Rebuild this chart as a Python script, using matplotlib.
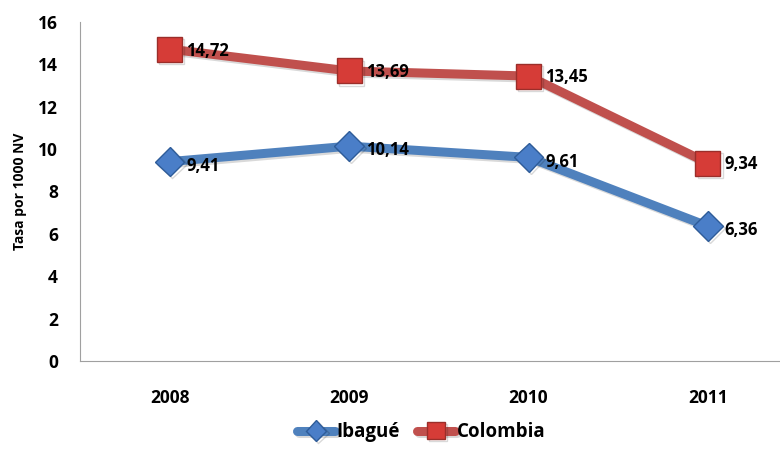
import numpy as np
import matplotlib.pyplot as plt
import matplotlib.patheffects as pe

years = ["2008", "2009", "2010", "2011"]
ibague = [9.41, 10.14, 9.61, 6.36]
colombia = [14.72, 13.69, 13.45, 9.34]
y_ticks = [0, 2, 4, 6, 8, 10, 12, 14, 16]

plt.rcParams['font.family'] = ['Open Sans', 'DejaVu Sans']

fig = plt.figure(figsize=(7.8, 4.5), dpi=100)
ax = fig.add_axes([0.1026, 0.198, 0.92, 0.753])

x = np.arange(len(years))
shadow = [pe.SimpleLineShadow(offset=(1.5, -1.5), alpha=0.15), pe.Normal()]

ax.plot(x, ibague, color='#4F81BD', linewidth=6.5, marker='D', markersize=15,
        markerfacecolor='#4A7EC8', markeredgecolor='#2E5C99', markeredgewidth=1,
        label='Ibagué', path_effects=shadow, solid_capstyle='round')
ax.plot(x, colombia, color='#C0504D', linewidth=6.5, marker='s', markersize=18,
        markerfacecolor='#D63C37', markeredgecolor='#9B2E2A', markeredgewidth=1,
        label='Colombia', path_effects=shadow, solid_capstyle='round')

def fmt(v):
    return f"{v:.2f}".replace('.', ',')

for xi, v in zip(x, ibague):
    ax.annotate(fmt(v), (xi, v), xytext=(12, -3), textcoords='offset points',
                ha='left', va='center', fontsize=12, fontweight='bold')
for xi, v in zip(x, colombia):
    ax.annotate(fmt(v), (xi, v), xytext=(12, -1), textcoords='offset points',
                ha='left', va='center', fontsize=12, fontweight='bold')

ax.set_xlim(-0.5, 3.5)
ax.set_ylim(0, 16)
ax.set_yticks(y_ticks)
ax.set_xticks(x)
ax.set_xticklabels(years)
ax.tick_params(axis='both', length=0, labelsize=12.5)
ax.tick_params(axis='x', pad=20)
ax.tick_params(axis='y', pad=16)
for lab in ax.get_xticklabels() + ax.get_yticklabels():
    lab.set_fontweight('bold')

ax.set_ylabel("Tasa por 1000 NV", fontsize=10, fontweight='bold', labelpad=8)
ax.spines['top'].set_visible(False)
ax.spines['right'].set_visible(False)
ax.spines['left'].set_color('#A0A0A0')
ax.spines['bottom'].set_color('#A0A0A0')

leg = fig.legend(loc='lower center', bbox_to_anchor=(0.54, -0.02), ncol=2,
                 frameon=False, fontsize=13.5, handlelength=2.0, columnspacing=0.9,
                 handletextpad=0.1, markerscale=0.7)
for t in leg.get_texts():
    t.set_fontweight('bold')

fig.savefig("out.png", dpi=100)
